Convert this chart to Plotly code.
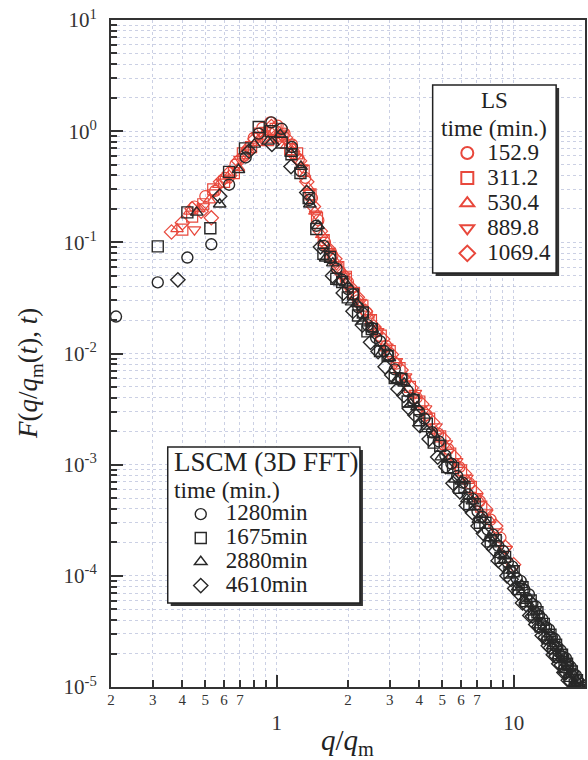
import plotly.graph_objects as go

# ---------------- data ----------------
# LS (light scattering), red
ls_times = ["152.9", "311.2", "530.4", "889.8", "1069.4"]
ls_symbols = ["circle-open", "square-open", "triangle-up-open", "triangle-down-open", "diamond-open"]

ls_q_1529 = [0.45, 0.50, 0.55, 0.61, 0.67, 0.73, 0.80, 0.87, 0.94, 1.01, 1.08, 1.16, 1.24, 1.32, 1.41, 1.50,
             1.60, 1.72, 1.85, 2.0, 2.2, 2.4, 2.65, 2.9, 3.2, 3.5, 3.9, 4.3, 4.8, 5.3, 5.9, 6.5, 7.2, 8.0, 8.8]
ls_F_1529 = [0.21, 0.26, 0.29, 0.38, 0.50, 0.60, 0.87, 1.07, 1.20, 1.12, 0.95, 0.76, 0.56, 0.38, 0.25, 0.158,
             0.100, 0.076, 0.055, 0.044, 0.030, 0.0234, 0.0158, 0.0117, 0.0081, 0.0058, 0.0040, 0.0028, 0.0019,
             0.00138, 0.00095, 0.00068, 0.00047, 0.00032, 0.00022]

ls_q_3112 = [0.40, 0.44, 0.49, 0.54, 0.60, 0.66, 0.72, 0.78, 0.85, 0.92, 0.99, 1.06, 1.14, 1.22, 1.30, 1.39,
             1.48, 1.58, 1.69, 1.82, 1.96, 2.12, 2.3, 2.5, 2.75, 3.0, 3.3, 3.65, 4.0, 4.4, 4.9, 5.4, 6.0, 6.6, 7.3]
ls_F_3112 = [0.13, 0.17, 0.22, 0.30, 0.35, 0.42, 0.63, 0.72, 0.95, 0.83, 1.05, 0.91, 0.69, 0.63, 0.44, 0.27,
             0.166, 0.105, 0.076, 0.060, 0.049, 0.035, 0.027, 0.020, 0.0145, 0.0105, 0.0074, 0.0050, 0.0037,
             0.0026, 0.0018, 0.00126, 0.00089, 0.00063, 0.00042]

ls_q_5304 = [0.38, 0.43, 0.47, 0.52, 0.57, 0.63, 0.69, 0.75, 0.82, 0.89, 0.96, 1.03, 1.10, 1.18, 1.27, 1.36,
             1.45, 1.55, 1.66, 1.78, 1.92, 2.07, 2.24, 2.43, 2.65, 2.9, 3.2, 3.5, 3.85, 4.25, 4.7, 5.2, 5.8,
             6.4, 7.1, 7.9]
ls_F_5304 = [0.132, 0.19, 0.20, 0.24, 0.33, 0.40, 0.47, 0.72, 0.79, 0.95, 0.83, 0.98, 0.74, 0.69, 0.48, 0.31,
             0.19, 0.117, 0.087, 0.066, 0.050, 0.038, 0.028, 0.022, 0.0158, 0.0112, 0.0083, 0.0060, 0.0042,
             0.0030, 0.0020, 0.00145, 0.00100, 0.00072, 0.00049, 0.00032]

ls_q_8898 = [0.45, 0.49, 0.54, 0.59, 0.64, 0.70, 0.76, 0.83, 0.90, 0.97, 1.04, 1.12, 1.20, 1.28, 1.37, 1.46,
             1.56, 1.67, 1.79, 1.93, 2.08, 2.25, 2.45, 2.67, 2.92, 3.2, 3.5, 3.85, 4.25, 4.7, 5.2, 5.75, 6.35,
             7.0, 7.7, 8.5, 9.3]
ls_F_8898 = [0.13, 0.21, 0.28, 0.35, 0.38, 0.56, 0.68, 0.91, 1.02, 0.87, 0.93, 0.79, 0.58, 0.47, 0.28, 0.18,
             0.110, 0.083, 0.063, 0.050, 0.037, 0.029, 0.021, 0.0158, 0.0115, 0.0085, 0.0062, 0.0044, 0.0032,
             0.0022, 0.00155, 0.00107, 0.00076, 0.00052, 0.00037, 0.00025, 0.000174]

ls_q_10694 = [0.36, 0.40, 0.44, 0.48, 0.53, 0.58, 0.63, 0.69, 0.75, 0.81, 0.88, 0.95, 1.02, 1.09, 1.17, 1.25,
              1.34, 1.43, 1.53, 1.64, 1.76, 1.89, 2.03, 2.19, 2.37, 2.57, 2.8, 3.05, 3.35, 3.7, 4.1, 4.55,
              5.05, 5.6, 6.2, 6.9, 7.6, 8.4, 9.2, 10.0]
ls_F_10694 = [0.124, 0.15, 0.20, 0.19, 0.166, 0.35, 0.42, 0.54, 0.65, 0.85, 0.89, 1.10, 0.87, 0.87, 0.63, 0.54,
              0.35, 0.21, 0.126, 0.089, 0.071, 0.052, 0.040, 0.032, 0.024, 0.0174, 0.0135, 0.0098, 0.0071,
              0.0049, 0.0035, 0.0024, 0.0017, 0.00117, 0.00083, 0.00056, 0.00040, 0.00028, 0.000182, 0.000126]

# LSCM (3D FFT), black
lscm_times = ["1280min", "1675min", "2880min", "4610min"]
lscm_symbols = ["circle-open", "square-open", "triangle-up-open", "diamond-open"]

lscm_q_1280 = [0.21, 0.315, 0.42, 0.53, 0.63, 0.74, 0.84, 0.95, 1.05, 1.16, 1.26, 1.37, 1.47, 1.58, 1.68, 1.79,
               1.89, 2.0, 2.1, 2.21, 2.31, 2.42, 2.52, 2.63, 2.73, 2.84, 2.94, 3.15, 3.36, 3.57, 3.78, 3.99,
               4.2, 4.52, 4.83, 5.15, 5.46, 5.78, 6.09, 6.41, 6.72, 7.04, 7.35, 7.77, 8.19, 8.61, 9.03, 9.45,
               9.87, 10.3, 10.7, 11.1, 11.6, 12.0, 12.4, 12.8, 13.2, 13.7, 14.1, 14.5, 14.9, 15.3, 15.8, 16.2,
               16.6, 17.0, 17.4, 17.9, 18.3, 18.7, 19.1, 19.5, 20.0]
lscm_F_1280 = [0.0215, 0.0436, 0.073, 0.096, 0.33, 0.58, 0.95, 1.20, 1.05, 0.72, 0.44, 0.24, 0.141, 0.093,
               0.072, 0.058, 0.046, 0.038, 0.034, 0.026, 0.023, 0.018, 0.017, 0.0138, 0.0129, 0.0105,
               0.0098, 0.0072, 0.0060, 0.0046, 0.0039, 0.0030, 0.0026, 0.00196, 0.00162, 0.00121, 0.00102,
               0.00079, 0.00069, 0.00054, 0.00049, 0.00038, 0.00034, 0.00026, 0.000235, 0.000186, 0.000167,
               0.000132, 0.000121, 9.5e-5, 9.0e-5, 7.5e-5, 6.8e-5, 5.6e-5, 5.3e-5, 4.4e-5, 4.1e-5, 3.45e-5,
               3.3e-5, 2.8e-5, 2.7e-5, 2.3e-5, 2.14e-5, 1.86e-5, 1.82e-5, 1.59e-5, 1.52e-5, 1.32e-5,
               1.27e-5, 1.13e-5, 1.07e-5, 9.5e-6, 9.1e-6]

lscm_q_1675 = [0.315, 0.42, 0.525, 0.63, 0.735, 0.84, 0.945, 1.05, 1.155, 1.26, 1.365, 1.47, 1.575, 1.68,
               1.785, 1.89, 1.995, 2.1, 2.205, 2.31, 2.415, 2.52, 2.73, 2.94, 3.15, 3.36, 3.57, 3.78, 4.0,
               4.3, 4.6, 4.9, 5.25, 5.55, 5.9, 6.2, 6.5, 6.85, 7.2, 7.6, 8.0, 8.4, 8.8, 9.2, 9.6, 10.0, 10.5,
               10.9, 11.3, 11.8, 12.2, 12.6, 13.0, 13.4, 13.9, 14.3, 14.7, 15.1, 15.5, 16.0, 16.4, 16.8,
               17.2, 17.6, 18.1, 18.5, 18.9, 19.3, 19.8]
lscm_F_1675 = [0.092, 0.186, 0.134, 0.43, 0.70, 1.09, 1.0, 0.79, 0.62, 0.42, 0.25, 0.132, 0.079, 0.074,
               0.047, 0.044, 0.032, 0.034, 0.022, 0.0234, 0.0158, 0.0166, 0.0105, 0.0095, 0.0060, 0.0059,
               0.0037, 0.0038, 0.00251, 0.00234, 0.00158, 0.00148, 0.00095, 0.00093, 0.00062, 0.00063,
               0.00044, 0.00044, 0.00030, 0.00030, 0.000204, 0.000209, 0.000145, 0.000148, 0.000107,
               0.000110, 7.6e-5, 7.9e-5, 5.9e-5, 6.0e-5, 4.5e-5, 4.7e-5, 3.5e-5, 3.7e-5, 2.75e-5, 2.95e-5,
               2.24e-5, 2.4e-5, 1.86e-5, 1.95e-5, 1.51e-5, 1.62e-5, 1.26e-5, 1.38e-5, 1.05e-5, 1.15e-5,
               8.9e-6, 9.8e-6, 7.6e-6]

lscm_q_2880 = [0.46, 0.575, 0.69, 0.805, 0.92, 1.035, 1.15, 1.265, 1.38, 1.495, 1.61, 1.725, 1.84, 1.955,
               2.07, 2.185, 2.3, 2.53, 2.76, 2.99, 3.22, 3.45, 3.68, 3.91, 4.25, 4.6, 4.95, 5.3, 5.65, 6.0,
               6.35, 6.7, 7.1, 7.5, 7.9, 8.3, 8.7, 9.1, 9.5, 9.9, 10.4, 10.8, 11.2, 11.7, 12.1, 12.5, 12.9,
               13.3, 13.8, 14.2, 14.6, 15.0, 15.4, 15.9, 16.3, 16.7, 17.1, 17.5, 18.0, 18.4, 18.8, 19.2, 19.7]
lscm_F_2880 = [0.186, 0.22, 0.45, 0.76, 0.81, 0.93, 0.63, 0.48, 0.22, 0.141, 0.072, 0.065, 0.044, 0.043,
               0.029, 0.028, 0.0195, 0.0166, 0.0100, 0.0091, 0.0058, 0.0054, 0.0035, 0.0033, 0.0021, 0.00186,
               0.00117, 0.00112, 0.00074, 0.00071, 0.00049, 0.00047, 0.00032, 0.00032, 0.000219, 0.000214,
               0.000155, 0.000151, 0.000112, 0.000112, 7.9e-5, 8.3e-5, 6.0e-5, 6.2e-5, 4.7e-5, 4.8e-5, 3.6e-5,
               3.8e-5, 2.8e-5, 3.0e-5, 2.34e-5, 2.45e-5, 1.9e-5, 2.0e-5, 1.55e-5, 1.66e-5, 1.29e-5, 1.38e-5,
               1.07e-5, 1.15e-5, 9.1e-6, 1.0e-5, 7.8e-6]

lscm_q_4610 = [0.383, 0.575, 0.765, 0.955, 1.15, 1.34, 1.53, 1.72, 1.91, 2.1, 2.3, 2.49, 2.68, 2.87, 3.06,
               3.25, 3.44, 3.63, 3.83, 4.02, 4.4, 4.78, 5.17, 5.55, 5.93, 6.31, 6.7, 7.08, 7.46, 7.84, 8.23,
               8.61, 8.99, 9.37, 9.76, 10.1, 10.5, 10.9, 11.3, 11.7, 12.0, 12.4, 12.8, 13.2, 13.6, 14.0,
               14.3, 14.7, 15.1, 15.5, 15.9, 16.3, 16.6, 17.0, 17.4, 17.8, 18.2, 18.6, 18.9, 19.3, 19.7]
lscm_F_4610 = [0.046, 0.26, 0.66, 0.76, 0.48, 0.28, 0.091, 0.050, 0.035, 0.024, 0.018, 0.0126, 0.0104,
               0.0076, 0.0064, 0.0048, 0.0042, 0.0032, 0.0028, 0.00224, 0.0017, 0.00117, 0.00096, 0.00068,
               0.00057, 0.00043, 0.00037, 0.00028, 0.00024, 0.000195, 0.000174, 0.000137, 0.000126,
               0.000100, 9.3e-5, 7.7e-5, 7.0e-5, 5.7e-5, 5.5e-5, 4.4e-5, 4.35e-5, 3.65e-5, 3.5e-5, 2.9e-5,
               2.8e-5, 2.35e-5, 2.26e-5, 1.95e-5, 1.9e-5, 1.62e-5, 1.58e-5, 1.35e-5, 1.35e-5, 1.15e-5,
               1.12e-5, 9.7e-6, 9.6e-6, 8.1e-6, 8.3e-6, 7.2e-6, 7.2e-6]

# axis ticks
x_major_ticks = [1, 10]
x_major_text = ["1", "10"]
x_small_ticks = [0.2, 0.3, 0.4, 0.5, 0.6, 0.7, 2, 3, 4, 5, 6, 7, 20]
x_small_text = ["2", "3", "4", "5", "6", "7", "2", "3", "4", "5", "6", "7", "2"]
x_minor_ticks = [0.3, 0.4, 0.5, 0.6, 0.7, 0.8, 0.9, 2, 3, 4, 5, 6, 7, 8, 9]
y_major_ticks = [1e-5, 1e-4, 1e-3, 1e-2, 1e-1, 1e0, 1e1]
y_major_text = ["10<sup>-5</sup>", "10<sup>-4</sup>", "10<sup>-3</sup>", "10<sup>-2</sup>",
                "10<sup>-1</sup>", "10<sup>0</sup>", "10<sup>1</sup>"]
y_minor_ticks = [m * 10.0 ** e for e in range(-5, 1) for m in range(2, 10)]

# ---------------- figure ----------------
SERIF = "Liberation Serif, Times New Roman, serif"
RED = "rgb(232,72,60)"
BLACK = "rgb(40,40,40)"
GRID = "rgba(160,170,205,0.55)"
MSIZE = 11


def big(s, size=23):
    return "<span style='font-size:%dpx'>%s</span>" % (size, s)


fig = go.Figure()

ls_data = [(ls_q_1529, ls_F_1529), (ls_q_3112, ls_F_3112), (ls_q_5304, ls_F_5304),
           (ls_q_8898, ls_F_8898), (ls_q_10694, ls_F_10694)]
for (q, F), name, sym in zip(ls_data, ls_times, ls_symbols):
    fig.add_trace(go.Scatter(x=q, y=F, mode="markers", name=big(name), legend="legend",
                             marker=dict(symbol=sym, size=MSIZE, color=RED, line=dict(width=1.2, color=RED))))

lscm_data = [(lscm_q_1280, lscm_F_1280), (lscm_q_1675, lscm_F_1675),
             (lscm_q_2880, lscm_F_2880), (lscm_q_4610, lscm_F_4610)]
for (q, F), name, sym in zip(lscm_data, lscm_times, lscm_symbols):
    fig.add_trace(go.Scatter(x=q, y=F, mode="markers", name=big(name), legend="legend2",
                             marker=dict(symbol=sym, size=MSIZE, color=BLACK, line=dict(width=1.4, color=BLACK))))

# invisible trace to activate the overlay axis that carries the small tick labels
fig.add_trace(go.Scatter(x=[1], y=[1], xaxis="x2", mode="markers", showlegend=False,
                         marker=dict(size=0.1, opacity=0), hoverinfo="skip"))

fig.update_layout(
    width=588, height=760,
    margin=dict(l=111, r=1, t=20, b=73),
    paper_bgcolor="white", plot_bgcolor="white",
    font=dict(family=SERIF, color="#222"),
    xaxis=dict(type="log", range=[-0.69897, 1.30103], tickmode="array",
               tickvals=x_major_ticks, ticktext=x_major_text,
               ticks="inside", ticklen=12, tickwidth=2, tickcolor="#333",
               tickfont=dict(family=SERIF, size=21, color="#333"), ticklabelstandoff=16,
               showline=True, linewidth=2, linecolor="#333", mirror=True,
               showgrid=True, gridcolor=GRID, griddash="dot", gridwidth=1, zeroline=False,
               minor=dict(tickmode="array", tickvals=x_minor_ticks, ticks="inside", ticklen=7,
                          tickwidth=2, tickcolor="#333", showgrid=True, gridcolor=GRID,
                          griddash="dot", gridwidth=1)),
    xaxis2=dict(type="log", range=[-0.69897, 1.30103], overlaying="x", anchor="y", side="bottom",
                tickmode="array", tickvals=x_small_ticks, ticktext=x_small_text, ticks="",
                tickfont=dict(family=SERIF, size=15, color="#333"), ticklabelstandoff=2,
                showgrid=False, showline=False, zeroline=False),
    yaxis=dict(type="log", range=[-5, 1], tickmode="array", tickvals=y_major_ticks, ticktext=y_major_text,
               ticks="inside", ticklen=12, tickwidth=2, tickcolor="#333",
               tickfont=dict(family=SERIF, size=21, color="#333"), ticklabelstandoff=8,
               showline=True, linewidth=2, linecolor="#333", mirror=True,
               showgrid=True, gridcolor=GRID, griddash="dot", gridwidth=1, zeroline=False,
               minor=dict(tickmode="array", tickvals=y_minor_ticks, ticks="inside", ticklen=6,
                          tickwidth=2, tickcolor="#333", showgrid=True, gridcolor=GRID,
                          griddash="dot", gridwidth=1)),
    legend=dict(x=0.7095, y=0.827, xanchor="left", yanchor="top", bgcolor="rgba(0,0,0,0)",
                borderwidth=0, font=dict(family=SERIF, size=17, color="#222"),
                itemsizing="constant", itemclick=False),
    legend2=dict(x=0.1366, y=0.2845, xanchor="left", yanchor="top", bgcolor="rgba(0,0,0,0)",
                 borderwidth=0, font=dict(family=SERIF, size=16, color="#222"),
                 itemsizing="trace", itemwidth=40, itemclick=False),
)

px_w, px_h = 476.0, 667.0
dx, dy = 3 / px_w, 3 / px_h
boxes = [(0.6786, 0.6207, 0.9391, 0.9025), (0.1197, 0.1259, 0.5252, 0.3598)]
for x0, y0, x1, y1 in boxes:
    fig.add_shape(type="rect", xref="paper", yref="paper", x0=x0 + dx, x1=x1 + dx, y0=y0 - dy, y1=y1 - dy,
                  fillcolor="#333", line=dict(width=0), layer="above")
    fig.add_shape(type="rect", xref="paper", yref="paper", x0=x0, x1=x1, y0=y0, y1=y1,
                  fillcolor="white", line=dict(width=1.5, color="#222"), layer="above")

ann = [
    dict(text="LS", x=0.8088, y=0.8786, xanchor="center", yanchor="middle", font=dict(size=23)),
    dict(text="time (min.)", x=0.8088, y=0.8381, xanchor="center", yanchor="middle", font=dict(size=23.5)),
    dict(text="LSCM (3D FFT)", x=0.1282, y=0.3373, xanchor="left", yanchor="middle", font=dict(size=27)),
    dict(text="time (min.)", x=0.1282, y=0.2954, xanchor="left", yanchor="middle", font=dict(size=23.5)),
    dict(text="<i>F</i>(<i>q</i>/<i>q</i><sub>m</sub>(<i>t</i>), <i>t</i>)", x=-0.172, y=0.47,
         xanchor="center", yanchor="middle", textangle=-90, font=dict(size=27)),
    dict(text="<i>q</i>/<i>q</i><sub>m</sub>", x=0.498, y=-0.083, xanchor="center", yanchor="middle",
         font=dict(size=29)),
]
for a in ann:
    a.update(xref="paper", yref="paper", showarrow=False)
    a["font"].update(family=SERIF, color="#222")
    fig.add_annotation(**a)

fig.write_html("out.html")
